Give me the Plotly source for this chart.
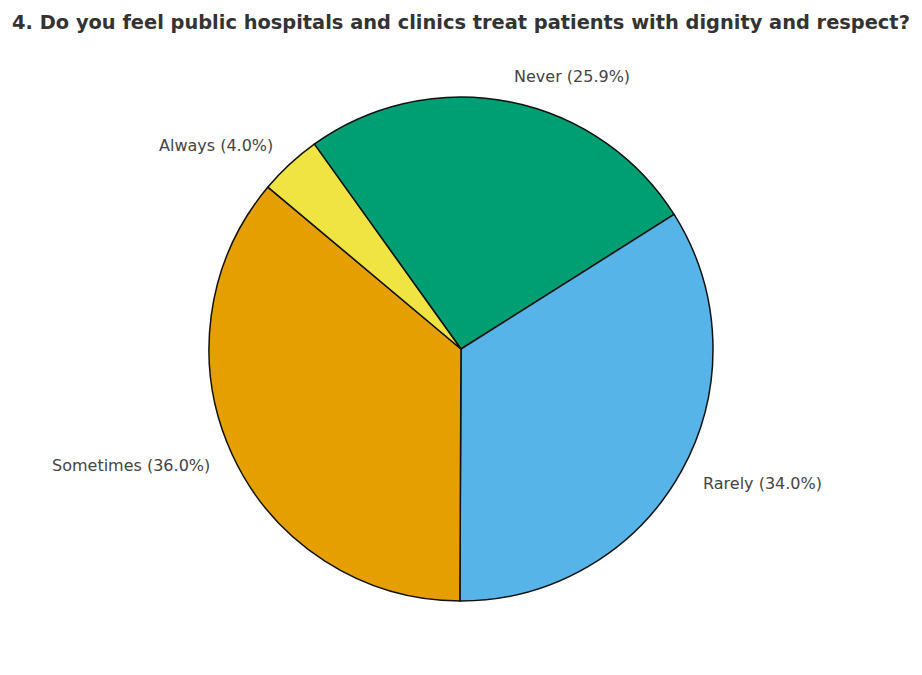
import math
import plotly.graph_objects as go

labels = ["Never", "Rarely", "Sometimes", "Always"]
values = [25.9, 34.0, 36.0, 4.0]
colors = ["#009E73", "#56B4E9", "#E69F00", "#F0E442"]
title = "4. Do you feel public hospitals and clinics treat patients with dignity and respect?"

W, H = 922, 675
MT, MB = 97, 74
ROT = -35.6  # degrees clockwise from 12 o'clock where the first slice starts

fig = go.Figure(go.Pie(
    labels=labels,
    values=values,
    sort=False,
    direction="clockwise",
    rotation=ROT,
    marker=dict(colors=colors, line=dict(color="#111111", width=1.5)),
    textinfo="none",
    automargin=False,
    hoverinfo="label+value",
    showlegend=False,
))

# labels placed at 1.1 x radius at each slice's mid angle (derived from values)
plot_h = H - MT - MB
r_px = plot_h / 2
total = sum(values)
start = 90 - ROT  # math angle (deg, counter-clockwise from 3 o'clock)
annotations = []
for lab, v in zip(labels, values):
    span = v / total * 360
    mid = math.radians(start - span / 2)
    start -= span
    dx = 1.1 * r_px * math.cos(mid) / W
    dy = 1.1 * r_px * math.sin(mid) / plot_h
    right = math.cos(mid) > 0
    annotations.append(dict(
        x=0.5 + dx, y=0.5 + dy, xref="paper", yref="paper",
        text=f"{lab} ({v:.1f}%)", showarrow=False,
        xanchor="left" if right else "right", yanchor="middle",
        xshift=-2 if right else 2,
        font=dict(family="DejaVu Sans", size=16, color="#444444"),
    ))

fig.update_layout(
    width=W, height=H,
    margin=dict(l=0, r=0, t=MT, b=MB),
    paper_bgcolor="white",
    plot_bgcolor="white",
    annotations=annotations,
    title=dict(text="<b>" + title + "</b>", x=0.5, xanchor="center",
               y=1 - 22 / H, yanchor="middle",
               font=dict(family="DejaVu Sans", size=19.4, color="#333333")),
)

fig.write_html("out.html")
